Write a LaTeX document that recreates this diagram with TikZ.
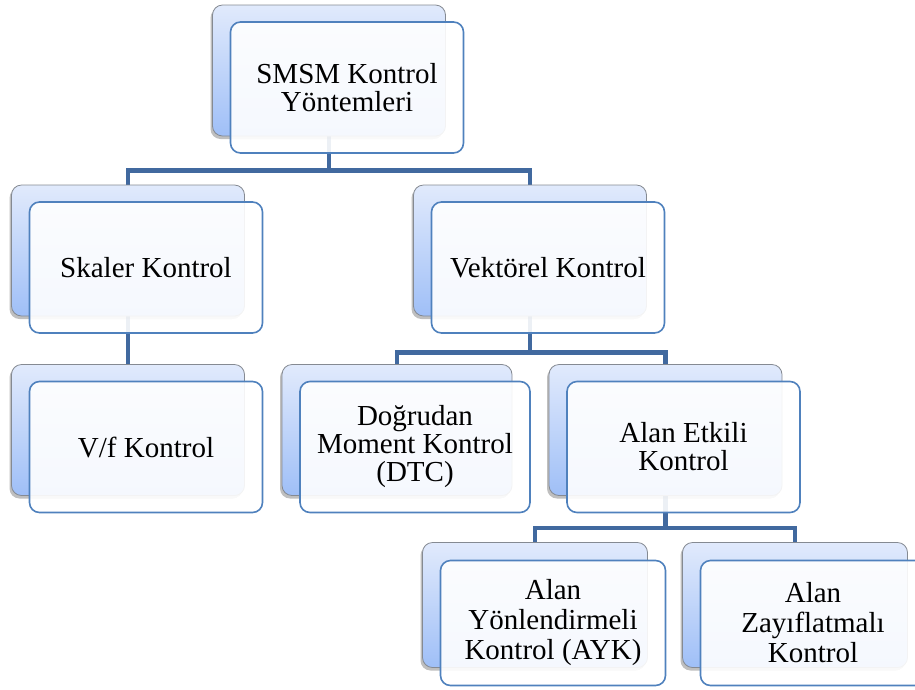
\documentclass[tikz,border=0pt]{standalone}
\usepackage{fontspec}
\setmainfont{Liberation Serif}
\usetikzlibrary{shadows,calc}
\pgfdeclarelayer{background}
\pgfsetlayers{background,main}
\definecolor{backTop}{HTML}{E1EAFC}
\definecolor{backBot}{HTML}{9FBFF7}
\definecolor{backLine}{HTML}{858A92}
\definecolor{frontLine}{HTML}{4F81BD}
\definecolor{linkBlue}{HTML}{41699F}
\tikzset{
  backbox/.style={draw=backLine, line width=0.8pt, rounded corners=10pt,
    top color=backTop, bottom color=backBot, inner sep=0pt,
    minimum width=233pt, minimum height=131pt,
    drop shadow={shadow xshift=-2pt, shadow yshift=-3pt, fill=black, opacity=0.25}},
  frontbox/.style={draw=frontLine, line width=1.6pt, rounded corners=10pt,
    fill=white, fill opacity=0.9, text opacity=1, inner sep=0pt,
    minimum width=233pt, minimum height=131pt, align=center,
    font=\fontsize{29}{28}\selectfont},
  small/.style={minimum width=225pt, minimum height=125pt},
  smalltext/.style={font=\fontsize{29}{30}\selectfont},
  link/.style={draw=linkBlue, line width=4.5pt, line join=miter}
}
\begin{document}
\begin{tikzpicture}[x=1pt, y=-1pt]
\useasboundingbox (0,0) rectangle (915,689);

% back panels
\node[backbox] (topB) at (329,70.5) {};
\node[backbox] (skB)  at (128,250.5) {};
\node[backbox] (vkB)  at (530,250.5) {};
\node[backbox] (vfB)  at (128,430) {};
\node[backbox, minimum width=230pt] (dtcB) at (397,430) {};
\node[backbox] (aeB)  at (665.5,430) {};
\node[backbox, small] (aykB) at (535,605) {};
\node[backbox, small] (azkB) at (795,605) {};

% front panels with labels
\node[frontbox] (topF) at ($(topB)+(18,17)$) {SMSM Kontrol\\Yöntemleri};
\node[frontbox] (skF)  at ($(skB)+(18,17)$) {Skaler Kontrol};
\node[frontbox] (vkF)  at ($(vkB)+(18,17)$) {Vektörel Kontrol};
\node[frontbox] (vfF)  at ($(vfB)+(18,17)$) {V/f Kontrol};
\node[frontbox, minimum width=230pt] (dtcF) at ($(dtcB)+(18,17)$) {Doğrudan\\Moment Kontrol\\(DTC)};
\node[frontbox] (aeF)  at ($(aeB)+(18,17)$) {Alan Etkili\\Kontrol};
\node[frontbox, small, smalltext] (aykF) at ($(aykB)+(18,18)$) {Alan\\Yönlendirmeli\\Kontrol (AYK)};
\node[frontbox, small, smalltext] (azkF) at ($(azkB)+(18,18)$) {Alan\\Zayıflatmalı\\Kontrol};

% tree connectors, behind the panels
\begin{pgfonlayer}{background}
\draw[link] (topB.south) -- ++(0,34) -| (skB.north);
\draw[link] (topB.south) -- ++(0,34) -| (vkB.north);
\draw[link] (skB.south) -- (vfB.north);
\draw[link] (vkB.south) -- ++(0,36) -| (dtcB.north);
\draw[link] (vkB.south) -- ++(0,36) -| (aeB.north);
\draw[link] (aeB.south) -- ++(0,32) -| (aykB.north);
\draw[link] (aeB.south) -- ++(0,32) -| (azkB.north);
\end{pgfonlayer}
\end{tikzpicture}
\end{document}
